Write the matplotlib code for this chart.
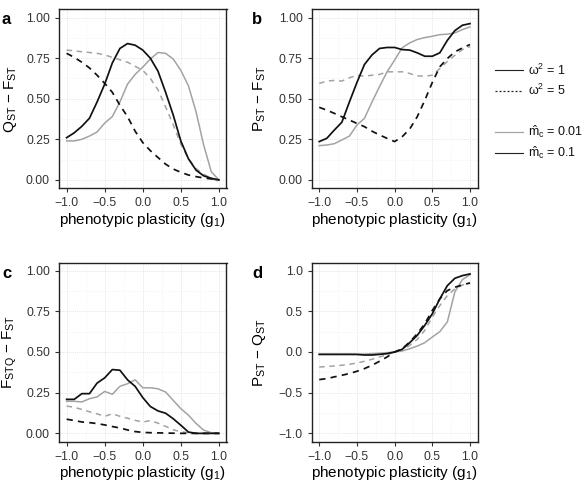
import matplotlib
matplotlib.use("Agg")
import matplotlib.pyplot as plt
from matplotlib.ticker import FixedLocator, FixedFormatter, MultipleLocator

plt.rcParams['font.family'] = ['Liberation Sans', 'DejaVu Sans']
plt.rcParams['mathtext.fontset'] = 'custom'
plt.rcParams['mathtext.rm'] = 'Liberation Sans'
plt.rcParams['mathtext.it'] = 'Liberation Sans:italic'
plt.rcParams['mathtext.bf'] = 'Liberation Sans:bold'

# ---------------- data ----------------
g1 = [-1.0, -0.9, -0.8, -0.7, -0.6, -0.5, -0.4, -0.3, -0.2, -0.1, 0.0,
      0.1, 0.2, 0.3, 0.4, 0.5, 0.6, 0.7, 0.8, 0.9, 1.0]

# panel a: QST - FST
a_w1_m01 = [0.26, 0.29, 0.33, 0.38, 0.48, 0.59, 0.72, 0.81, 0.84, 0.83, 0.80,
            0.75, 0.67, 0.54, 0.40, 0.24, 0.13, 0.06, 0.025, 0.01, 0.0]
a_w1_m001 = [0.24, 0.24, 0.25, 0.27, 0.295, 0.35, 0.39, 0.48, 0.59, 0.65, 0.695,
             0.745, 0.785, 0.78, 0.745, 0.675, 0.58, 0.42, 0.215, 0.05, 0.0]
a_w5_m001 = [0.80, 0.795, 0.79, 0.785, 0.78, 0.77, 0.755, 0.74, 0.725, 0.70, 0.675,
             0.625, 0.555, 0.45, 0.34, 0.22, 0.13, 0.07, 0.035, 0.01, -0.01]
a_w5_m01 = [0.78, 0.755, 0.725, 0.69, 0.645, 0.595, 0.54, 0.46, 0.39, 0.30, 0.23,
            0.18, 0.138, 0.097, 0.067, 0.047, 0.03, 0.02, 0.012, 0.006, 0.0]

# panel b: PST - FST
b_w1_m01 = [0.236, 0.256, 0.307, 0.355, 0.48, 0.60, 0.711, 0.77, 0.81, 0.816, 0.816,
            0.803, 0.80, 0.783, 0.762, 0.762, 0.783, 0.86, 0.92, 0.953, 0.963]
b_w1_m001 = [0.211, 0.215, 0.223, 0.246, 0.27, 0.338, 0.379, 0.48, 0.575, 0.666, 0.738,
             0.814, 0.844, 0.865, 0.877, 0.885, 0.895, 0.898, 0.906, 0.926, 0.943]
b_w5_m001 = [0.594, 0.609, 0.613, 0.609, 0.629, 0.645, 0.639, 0.645, 0.65, 0.666, 0.666,
             0.666, 0.656, 0.641, 0.639, 0.645, 0.686, 0.73, 0.768, 0.803, 0.82]
b_w5_m01 = [0.447, 0.43, 0.41, 0.389, 0.369, 0.348, 0.328, 0.30, 0.277, 0.256, 0.236,
            0.266, 0.313, 0.389, 0.49, 0.60, 0.697, 0.748, 0.789, 0.813, 0.834]

# panel c: FSTQ - FST
c_w1_m01 = [0.209, 0.209, 0.244, 0.244, 0.309, 0.341, 0.392, 0.388, 0.329, 0.289, 0.22,
            0.165, 0.138, 0.124, 0.09, 0.05, 0.008, 0.0, 0.0, 0.0, 0.0]
c_w1_m001 = [0.197, 0.197, 0.193, 0.213, 0.224, 0.258, 0.24, 0.289, 0.305, 0.329, 0.28,
             0.28, 0.274, 0.254, 0.203, 0.152, 0.112, 0.061, 0.02, 0.004, 0.0]
c_w5_m001 = [0.168, 0.16, 0.147, 0.133, 0.12, 0.105, 0.12, 0.105, 0.093, 0.08, 0.07,
             0.078, 0.063, 0.043, 0.022, 0.01, 0.004, 0.0, 0.0, 0.0, 0.0]
c_w5_m01 = [0.087, 0.079, 0.07, 0.066, 0.06, 0.052, 0.042, 0.033, 0.021, 0.011, 0.006,
            0.004, 0.003, 0.002, 0.001, 0.0, 0.0, 0.0, 0.0, 0.0, 0.0]

# panel d: PST - QST
d_w1_m01 = [-0.029, -0.029, -0.029, -0.029, -0.029, -0.03, -0.037, -0.037, -0.029, -0.02, 0.0,
            0.033, 0.114, 0.204, 0.327, 0.469, 0.653, 0.816, 0.906, 0.939, 0.959]
d_w1_m001 = [-0.03, -0.03, -0.03, -0.03, -0.03, -0.028, -0.025, -0.02, -0.015, -0.008, 0.0,
             0.012, 0.04, 0.073, 0.114, 0.184, 0.25, 0.37, 0.74, 0.89, 0.95]
d_w5_m001 = [-0.184, -0.18, -0.171, -0.163, -0.151, -0.135, -0.114, -0.09, -0.061, -0.033, 0.0,
             0.025, 0.082, 0.155, 0.265, 0.429, 0.571, 0.694, 0.776, 0.824, 0.845]
d_w5_m01 = [-0.339, -0.327, -0.306, -0.286, -0.265, -0.237, -0.204, -0.163, -0.114, -0.061, 0.0,
            0.04, 0.122, 0.224, 0.347, 0.51, 0.653, 0.755, 0.796, 0.824, 0.849]

x_ticks = [-1.0, -0.5, 0.0, 0.5, 1.0]
x_ticklabels = ['\u22121.0', '\u22120.5', '0.0', '0.5', '1.0']
y_ticks_frac = [0.0, 0.25, 0.5, 0.75, 1.0]
y_ticklabels_frac = ['0.00', '0.25', '0.50', '0.75', '1.00']
y_ticks_d = [-1.0, -0.5, 0.0, 0.5, 1.0]
y_ticklabels_d = ['\u22121.0', '\u22120.5', '0.0', '0.5', '1.0']

panel_letters = ['a', 'b', 'c', 'd']
ylabels = [r'$\mathrm{Q_{ST}}$ ' + '\u2212' + r' $\mathrm{F_{ST}}$',
           r'$\mathrm{P_{ST}}$ ' + '\u2212' + r' $\mathrm{F_{ST}}$',
           r'$\mathrm{F_{STQ}}$ ' + '\u2212' + r' $\mathrm{F_{ST}}$',
           r'$\mathrm{P_{ST}}$ ' + '\u2212' + r' $\mathrm{Q_{ST}}$']
xlabel = r'phenotypic plasticity ($\mathrm{g_1}$)'

legend_labels = [r'$\mathrm{\omega^2}$ = 1', r'$\mathrm{\omega^2}$ = 5',
                 r'$\mathrm{\hat{m}_c}$ = 0.01', r'$\mathrm{\hat{m}_c}$ = 0.1']

# ---------------- layout ----------------
W, H = 582, 487
fig = plt.figure(figsize=(W / 100, H / 100), dpi=100)

GREY = '#a3a3a3'
BLACK = '#111111'
DASH = (0, (3.6, 3.0))

def px_axes(left, top, right, bottom):
    return fig.add_axes([left / W, 1 - bottom / H, (right - left) / W, (bottom - top) / H])

boxes = [(59, 9.5, 226.5, 188.0),
         (311.7, 9.5, 477.5, 188.0),
         (59, 262.5, 226.5, 441.5),
         (311.7, 262.5, 477.5, 441.5)]

panels = [
    (a_w1_m01, a_w1_m001, a_w5_m001, a_w5_m01),
    (b_w1_m01, b_w1_m001, b_w5_m001, b_w5_m01),
    (c_w1_m01, c_w1_m001, c_w5_m001, c_w5_m01),
    (d_w1_m01, d_w1_m001, d_w5_m001, d_w5_m01),
]

for i, (box, series) in enumerate(zip(boxes, panels)):
    ax = px_axes(*box)
    w1_m01, w1_m001, w5_m001, w5_m01 = series
    ax.plot(g1, w5_m001, color=GREY, lw=1.1, linestyle=DASH, zorder=3)
    ax.plot(g1, w1_m001, color=GREY, lw=1.1, zorder=3)
    ax.plot(g1, w5_m01, color=BLACK, lw=1.25, linestyle=DASH, zorder=4)
    ax.plot(g1, w1_m01, color=BLACK, lw=1.25, zorder=4)

    ax.set_xlim(-1.1, 1.1)
    ax.xaxis.set_major_locator(FixedLocator(x_ticks))
    ax.xaxis.set_major_formatter(FixedFormatter(x_ticklabels))
    ax.xaxis.set_minor_locator(MultipleLocator(0.25))
    if i < 3:
        ax.set_ylim(-0.05, 1.05)
        ax.yaxis.set_major_locator(FixedLocator(y_ticks_frac))
        ax.yaxis.set_major_formatter(FixedFormatter(y_ticklabels_frac))
        ax.yaxis.set_minor_locator(MultipleLocator(0.125))
    else:
        ax.set_ylim(-1.1, 1.1)
        ax.yaxis.set_major_locator(FixedLocator(y_ticks_d))
        ax.yaxis.set_major_formatter(FixedFormatter(y_ticklabels_d))
        ax.yaxis.set_minor_locator(MultipleLocator(0.25))

    ax.grid(True, which='major', color='#e6e6e6', lw=0.7, linestyle=(0, (1, 1)))
    ax.grid(True, which='minor', color='#f2f2f2', lw=0.5, linestyle=(0, (1, 1)))
    ax.set_axisbelow(True)
    ax.tick_params(which='major', direction='out', length=3.0, width=0.8, color='#333333',
                   labelsize=8.7, labelcolor='#333333', pad=3.5)
    ax.tick_params(which='minor', length=0)
    for sp in ax.spines.values():
        sp.set_linewidth(1.0)
        sp.set_color('#222222')

    ax.set_xlabel(xlabel, fontsize=11, color='black')
    ax.xaxis.set_label_coords(0.5, -0.128)
    ax.xaxis.label.set_va('top')
    ax.set_ylabel(ylabels[i], fontsize=11, color='black')
    ax.yaxis.set_label_coords(-(box[0] - (18.5 if box[0] < 100 else 267.5)) / (box[2] - box[0]), 0.5)

    fig.text((box[0] - (57 if box[0] < 100 else 59.7)) / W, 1 - (box[1] + 3) / H, panel_letters[i],
             fontsize=12, fontweight='bold', ha='left', va='top')

# ---------------- legend ----------------
leg_styles = [dict(color='#222222', lw=0.8, linestyle='-'),
              dict(color='#222222', lw=0.9, linestyle=(0, (1.6, 1.6))),
              dict(color=GREY, lw=0.9, linestyle='-'),
              dict(color='#222222', lw=0.8, linestyle='-')]
leg_y = [70, 90.5, 132, 153]
for lab, st, yy in zip(legend_labels, leg_styles, leg_y):
    fig.add_artist(plt.Line2D([495 / W, 523 / W], [1 - yy / H, 1 - yy / H], **st))
    fig.text(528 / W, 1 - yy / H, lab, fontsize=9, ha='left', va='center', color='#111111')

fig.savefig('out.png', dpi=100)
